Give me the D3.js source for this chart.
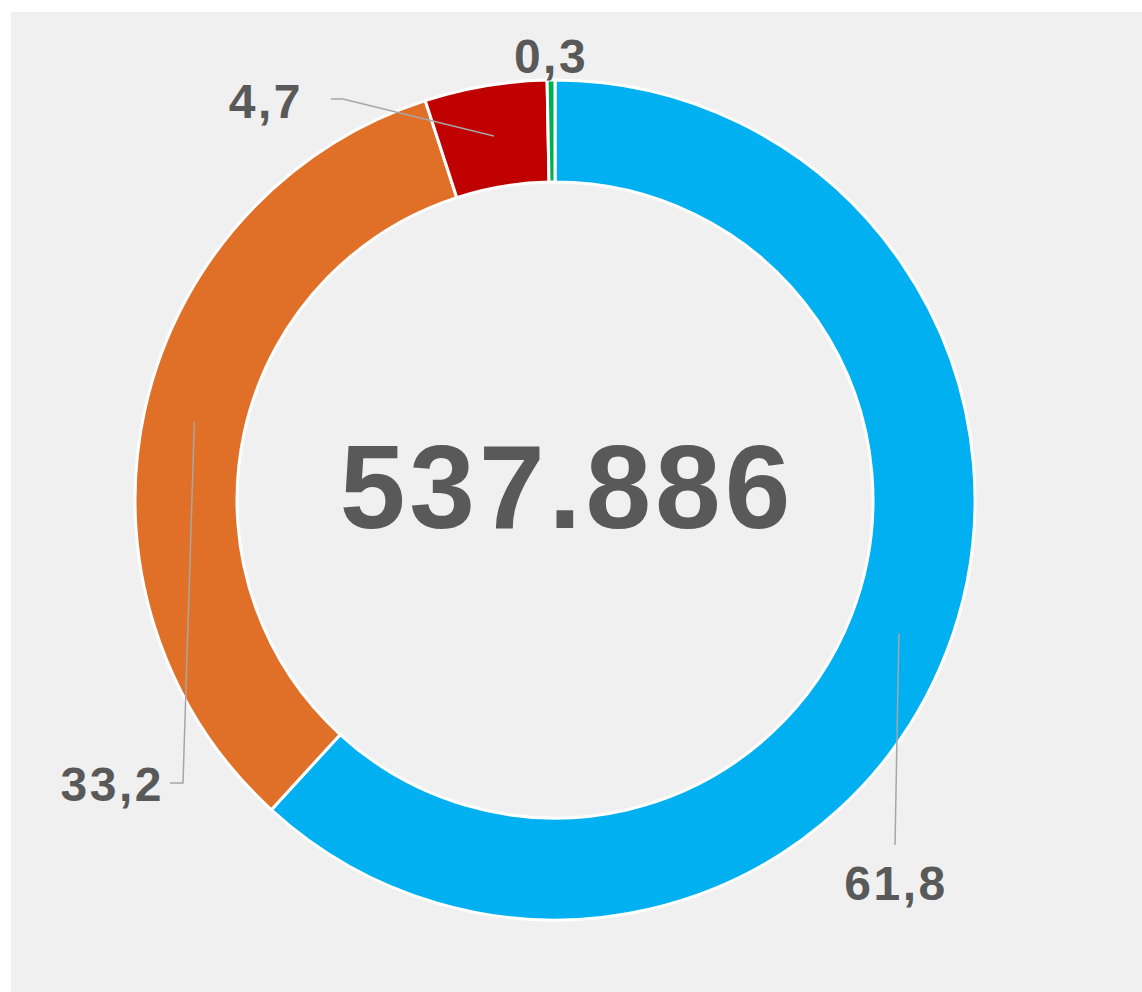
<!DOCTYPE html>
<html><head><meta charset="utf-8">
<script src="https://cdn.jsdelivr.net/npm/d3@7"></script>
<style>html,body{margin:0;padding:0;background:#fff;}svg{display:block;}</style>
</head><body>
<svg id="c" width="1142" height="992"></svg>
<script>
const categories = ["A", "B", "C", "D"];
const values = [61.8, 33.2, 4.7, 0.3];
const labels = ["61,8", "33,2", "4,7", "0,3"];
const colors = ["#00B0F0", "#E07028", "#C00000", "#00B050"];
const total = "537.886";

const svg = d3.select("#c");
svg.append("rect").attr("x", 11).attr("y", 12).attr("width", 1131).attr("height", 980).attr("fill", "#f0f0f0");

const cx = 555, cy = 500, rOut = 420, rIn = 318;
const g = svg.append("g").attr("transform", `translate(${cx},${cy})`);
const pie = d3.pie().sort(null).value(d => d)(values);
const arc = d3.arc().innerRadius(rIn).outerRadius(rOut);
g.selectAll("path.s").data(pie).join("path").attr("class", "s")
  .attr("d", arc).attr("fill", (d, i) => colors[i])
  .attr("stroke", "#fff").attr("stroke-width", 3);

// leader layout (positions relative to center)
const mid = (d) => (d.startAngle + d.endAngle) / 2;
const rMid = (rIn + rOut) / 2;
const leaders = [
  { pts: d => { const a = mid(d); return [[rMid*Math.sin(a), -rMid*Math.cos(a)], [340, 345]]; }, lx: 341, ly: 400, anchor: "middle" },
  { pts: d => { const a = mid(d); return [[rMid*Math.sin(a), -rMid*Math.cos(a)], [-372, 283], [-385, 283]]; }, lx: -391, ly: 301, anchor: "end" },
  { pts: d => { const a = mid(d); return [[rMid*Math.sin(a), -rMid*Math.cos(a)], [-212, -401], [-224, -401]]; }, lx: -252, ly: -382, anchor: "end" },
  { pts: null, lx: -4, ly: -427, anchor: "middle" }
];
const line = d3.line();
pie.forEach((d, i) => {
  const L = leaders[i];
  if (L.pts) {
    g.append("path").attr("d", line(L.pts(d))).attr("fill", "none")
      .attr("stroke", "#a6a6a6").attr("stroke-width", 1.5);
  }
  g.append("text").attr("x", L.lx).attr("y", L.ly).attr("text-anchor", L.anchor)
    .attr("font-family", "Liberation Sans, Arial, sans-serif").attr("font-weight", "bold")
    .attr("font-size", 48).attr("letter-spacing", 2.5).attr("fill", "#595959").text(labels[i]);
});

g.append("text").attr("x", 12).attr("y", 28).attr("text-anchor", "middle")
  .attr("font-family", "Liberation Sans, Arial, sans-serif").attr("font-weight", "bold")
  .attr("font-size", 118).attr("letter-spacing", 4).attr("fill", "#595959").text(total);
</script>
</body></html>
